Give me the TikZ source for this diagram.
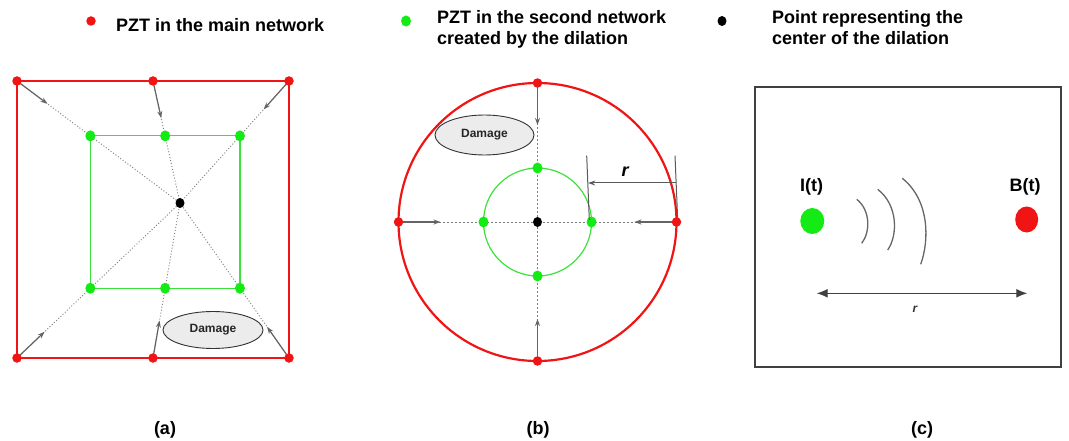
\documentclass[tikz,border=0pt]{standalone}
\usepackage{fontspec}
\setmainfont{Liberation Sans}
\usetikzlibrary{calc,arrows.meta,shapes.geometric}
\pgfdeclarelayer{bg}
\pgfsetlayers{bg,main}
\definecolor{pzred}{RGB}{240,20,20}
\definecolor{pzgreen}{RGB}{20,235,20}
\definecolor{lgreen}{RGB}{60,225,60}
\definecolor{arrgray}{RGB}{100,100,100}
\definecolor{dotgray}{RGB}{125,125,125}
\definecolor{dmgfill}{RGB}{236,236,236}
\begin{document}
\begin{tikzpicture}[x=1pt,y=-1pt,
  reddot/.style={circle,fill=pzred,inner sep=0pt,minimum size=9.5pt},
  greendot/.style={ellipse,fill=pzgreen,inner sep=0pt,minimum width=10pt,minimum height=11pt},
  blackdot/.style={ellipse,fill=black,inner sep=0pt,minimum width=9pt,minimum height=10pt},
  redframe/.style={draw=pzred,line width=2.6pt},
  greenline/.style={draw=lgreen,line width=1.2pt},
  dotline/.style={draw=dotgray,line width=0.9pt,dash pattern=on 1pt off 2pt},
  dashline/.style={draw=dotgray,line width=0.8pt,dash pattern=on 2pt off 2pt},
  garrow/.style={draw=arrgray,line width=1.2pt,-{Stealth[length=7pt,width=5pt]}},
  dimline/.style={draw=black!65,line width=1pt},
  damage/.style={ellipse,draw=black!80,line width=0.9pt,fill=dmgfill,font=\fontsize{12}{14}\selectfont\bfseries,text=black!85,inner sep=0pt},
  legend/.style={font=\fontsize{18}{21}\selectfont\bfseries,align=left,inner sep=0pt,text=black},
  bigbold/.style={font=\fontsize{18}{21}\selectfont\bfseries,inner sep=0pt,text=black}
]
\useasboundingbox (0,0) rectangle (1069,441);

% ---------------- legend ----------------
\node[reddot] (lr) at (91,21) {};
\node[legend,anchor=west] (lt1) at (116,25) {PZT in the main network};
\node[greendot] (lg) at (406,21) {};
\node[legend,anchor=north west] (lt2) at (437,10.5) {PZT in the second network\\created by the dilation};
\node[blackdot] (lb) at (722,21) {};
\node[legend,anchor=north west] (lt3) at (772,10.5) {Point representing the\\center of the dilation};

% ---------------- panel (a) ----------------
\node[blackdot] (ca) at (180,203) {};
\node[reddot] (a1) at (17,81) {};
\node[reddot] (a2) at (153,81) {};
\node[reddot] (a3) at (289,81) {};
\node[reddot] (a4) at (17,358) {};
\node[reddot] (a5) at (153,358) {};
\node[reddot] (a6) at (289,358) {};
\foreach \i in {1,...,6}
  \node[greendot] (g\i) at ($(ca.center)!0.55!(a\i.center)$) {};
\begin{pgfonlayer}{bg}
  \draw[redframe] (a1.center) -- (a3.center) -- (a6.center) -- (a4.center) -- cycle;
  \draw[greenline] (g1.center) -- (g3.center) -- (g6.center) -- (g4.center) -- cycle;
  \foreach \i in {1,...,6} {
    \draw[dotline] (a\i.center) -- (ca.center);
    \draw[garrow] (a\i.center) -- ($(a\i.center)!38pt!(ca.center)$);
  }
\end{pgfonlayer}
\node[damage,minimum width=100pt,minimum height=37pt] (dmga) at (213,330) {Damage};

% ---------------- panel (b) ----------------
\node[blackdot] (cb) at (537.5,222) {};
\node[reddot] (b1) at ($(cb.center)+(0,-139)$) {};
\node[reddot] (b2) at ($(cb.center)+(139,0)$) {};
\node[reddot] (b3) at ($(cb.center)+(0,139)$) {};
\node[reddot] (b4) at ($(cb.center)+(-139,0)$) {};
\node[greendot] (h1) at ($(cb.center)+(0,-54)$) {};
\node[greendot] (h2) at ($(cb.center)+(54,0)$) {};
\node[greendot] (h3) at ($(cb.center)+(0,54)$) {};
\node[greendot] (h4) at ($(cb.center)+(-54,0)$) {};
\begin{pgfonlayer}{bg}
  \draw[draw=pzred,line width=2.2pt] (cb.center) circle[radius=139pt];
  \draw[greenline] (cb.center) circle[radius=54pt];
  \draw[dashline] (b4.center) -- (b2.center);
  \draw[dashline] (b1.center) -- (b3.center);
  \foreach \i in {1,...,4}
    \draw[garrow] (b\i.center) -- ($(b\i.center)!42pt!(cb.center)$);
\end{pgfonlayer}
\node[damage,minimum width=99pt,minimum height=40pt] (dmgb) at (484.5,135) {Damage};
\coordinate (e1b) at (589.3,220);
\coordinate (e1t) at (586.7,155.7);
\coordinate (e2b) at (677.7,220);
\coordinate (e2t) at (675,155.7);
\coordinate (rr) at (676,183);
\coordinate (rl) at (588.2,183);
\draw[dimline] (e1b) -- (e1t);
\draw[dimline] (e2b) -- (e2t);
\draw[dimline,-{Stealth[length=7pt,width=5pt]}] (rr) -- (rl);
\node[bigbold,font=\fontsize{18}{21}\selectfont\bfseries\itshape] (rb) at (625,172) {r};

% ---------------- panel (c) ----------------
\node[draw=black!75,line width=1.1pt,minimum width=306pt,minimum height=280pt,inner sep=0pt] (box) at (908,227) {};
\node[ellipse,fill=pzgreen,minimum width=24pt,minimum height=26pt,inner sep=0pt] (it) at (812.3,221) {};
\node[ellipse,fill=pzred,minimum width=23pt,minimum height=26pt,inner sep=0pt] (bt) at (1026.7,219.5) {};
\node[bigbold] (itl) at (811.7,186.5) {I(t)};
\node[bigbold] (btl) at (1025,186.5) {B(t)};
\draw[black!60,line width=1.3pt] (856.7,199.3) .. controls (870.5,210) and (870.5,232) .. (861.7,243.3);
\draw[black!60,line width=1.3pt] (877.7,189.3) .. controls (898,205) and (898,235) .. (887.7,250);
\draw[black!60,line width=1.3pt] (902.3,178.3) .. controls (929.5,200) and (929.5,240) .. (920.7,264.3);
\coordinate (cl) at (816.7,293.3);
\coordinate (cr) at (1027.3,293.3);
\draw[black!75,line width=1.2pt,{Latex[length=11pt,width=9pt]}-{Latex[length=11pt,width=9pt]}] (cl) -- (cr);
\node[inner sep=0pt,font=\fontsize{12}{14}\selectfont\bfseries\itshape,text=black!80] (rc) at (915,309.5) {r};

% ---------------- captions ----------------
\node[bigbold] (capa) at (165,429.5) {(a)};
\node[bigbold] (capb) at (538,429.5) {(b)};
\node[bigbold] (capc) at (922,429.5) {(c)};
\end{tikzpicture}
\end{document}
